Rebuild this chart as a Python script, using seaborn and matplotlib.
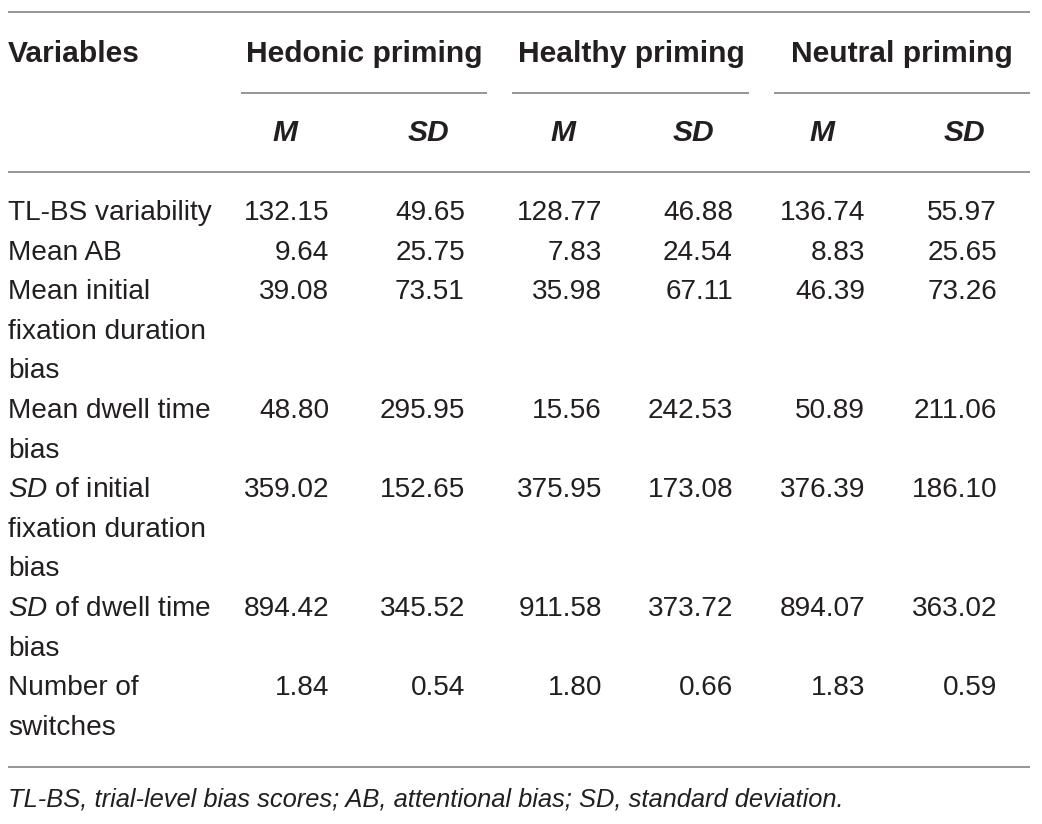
import matplotlib
matplotlib.use("Agg")
import matplotlib.pyplot as plt
import seaborn as sns

# ---- data ----
groups = ["Hedonic priming", "Healthy priming", "Neutral priming"]
stats = ["M", "SD"]
variables = [
    "TL-BS variability",
    "Mean AB",
    "Mean initial\nfixation duration\nbias",
    "Mean dwell time\nbias",
    "$\\mathit{SD}$ of initial\nfixation duration\nbias",
    "$\\mathit{SD}$ of dwell time\nbias",
    "Number of\nswitches",
]
hedonic_m = ["132.15", "9.64", "39.08", "48.80", "359.02", "894.42", "1.84"]
hedonic_sd = ["49.65", "25.75", "73.51", "295.95", "152.65", "345.52", "0.54"]
healthy_m = ["128.77", "7.83", "35.98", "15.56", "375.95", "911.58", "1.80"]
healthy_sd = ["46.88", "24.54", "67.11", "242.53", "173.08", "373.72", "0.66"]
neutral_m = ["136.74", "8.83", "46.39", "50.89", "376.39", "894.07", "1.83"]
neutral_sd = ["55.97", "25.65", "73.26", "211.06", "186.10", "363.02", "0.59"]
footnote = "TL-BS, trial-level bias scores; AB, attentional bias; SD, standard deviation."

# ---- style ----
sns.set_theme(style="white")
plt.rcParams["font.family"] = ["Liberation Sans", "DejaVu Sans"]
plt.rcParams["mathtext.fontset"] = "custom"
plt.rcParams["mathtext.rm"] = "Liberation Sans"
plt.rcParams["mathtext.it"] = "Liberation Sans:italic"
plt.rcParams["mathtext.bf"] = "Liberation Sans:bold"

W, H = 1042, 824
fig = plt.figure(figsize=(W / 100, H / 100), dpi=100)
ax = fig.add_axes([0, 0, 1, 1])
ax.set_xlim(0, W)
ax.set_ylim(H, 0)
ax.axis("off")

txt = "#231f20"
linec = "#8c8c8c"
fs_body = 20.2
fs_head = 21.6
fs_stat = 21.6
fs_foot = 18.4
left = 8
right = 1030

# layout
group_centers = [364, 631, 902]
group_spans = [(241, 487), (512, 749), (774, 1030)]
stat_centers = [[285, 428], [563, 693], [822, 964]]
col_right = [[329, 465], [602, 733], [865, 997]]

ax.hlines(12, left, right, color=linec, lw=1.3)
ax.text(left, 54, "Variables", fontsize=fs_head, fontweight="bold", color=txt, va="center", ha="left")
for g, c, (a, b) in zip(groups, group_centers, group_spans):
    ax.text(c, 54, g, fontsize=fs_head, fontweight="bold", color=txt, va="center", ha="center")
    ax.hlines(93, a, b, color=linec, lw=1.3)
for sc in stat_centers:
    for s, c in zip(stats, sc):
        ax.text(c, 133, s, fontsize=fs_stat, fontweight="bold", fontstyle="italic", color=txt,
                va="center", ha="center")
ax.hlines(172, left, right, color=linec, lw=1.3)

cols = [[hedonic_m, hedonic_sd], [healthy_m, healthy_sd], [neutral_m, neutral_sd]]
y0 = 213
step = 39.6
line = 0
for i, v in enumerate(variables):
    y = y0 + line * step
    for j, l in enumerate(v.split("\n")):
        ax.text(left, y + j * step, l, fontsize=fs_body, color=txt, va="center", ha="left")
    for gi, pair in enumerate(cols):
        for si, arr in enumerate(pair):
            ax.text(col_right[gi][si], y, arr[i], fontsize=fs_body, color=txt, va="center", ha="right")
    line += len(v.split("\n"))

ax.hlines(767, left, right, color=linec, lw=1.3)
ax.text(left, 800, footnote, fontsize=fs_foot, fontstyle="italic", color=txt, va="center", ha="left")

fig.savefig("out.png", dpi=100, facecolor="white")
